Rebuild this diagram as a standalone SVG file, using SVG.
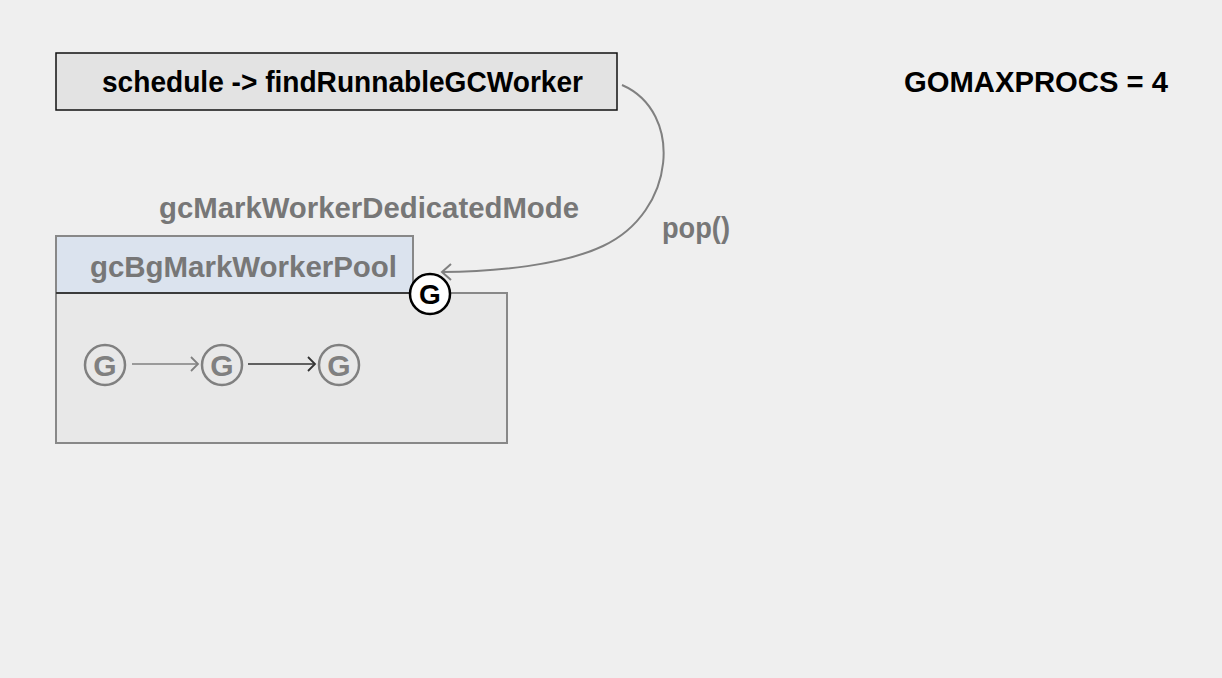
<svg xmlns="http://www.w3.org/2000/svg" width="1222" height="678" viewBox="0 0 1222 678">
<style>
text{font-family:"Liberation Sans",Arial,sans-serif;font-weight:bold}
.big{font-size:29px}
.gray{fill:#777777}
.gc{fill:none;stroke:#808080;stroke-width:2.5}
.gt{font-size:30px;fill:#808080;text-anchor:middle}
</style>
<defs>
<marker id="ag" markerWidth="12" markerHeight="16" refX="9" refY="8" orient="auto" markerUnits="userSpaceOnUse"><path d="M2,1 L9,8 L2,15" fill="none" stroke="#808080" stroke-width="1.8"/></marker>
<marker id="ad" markerWidth="12" markerHeight="16" refX="9" refY="8" orient="auto" markerUnits="userSpaceOnUse"><path d="M2,1 L9,8 L2,15" fill="none" stroke="#333333" stroke-width="1.8"/></marker>
<marker id="ac" markerWidth="16" markerHeight="20" refX="12" refY="10" orient="auto" markerUnits="userSpaceOnUse"><path d="M3,2 L12,10 L3,18" fill="none" stroke="#808080" stroke-width="2"/></marker>
</defs>
<rect width="1222" height="678" fill="#efefef"/>
<g id="schedule">
<rect x="56" y="53" width="561" height="57" fill="#e3e3e3" stroke="#111" stroke-width="1.5"/>
<text class="big" x="102" y="92" textLength="481" lengthAdjust="spacingAndGlyphs">schedule -&gt; findRunnableGCWorker</text>
</g>
<g id="gomaxprocs"><text class="big" x="904" y="92" textLength="264" lengthAdjust="spacingAndGlyphs">GOMAXPROCS = 4</text></g>
<g id="mode"><text class="big gray" x="159" y="218" textLength="420" lengthAdjust="spacingAndGlyphs">gcMarkWorkerDedicatedMode</text></g>
<g id="pop"><text class="big gray" x="662" y="238" textLength="68" lengthAdjust="spacingAndGlyphs">pop()</text></g>
<g id="pool">
<rect x="56" y="293" width="451" height="150" fill="#e8e8e8" stroke="#888" stroke-width="2"/>
<rect x="56" y="236" width="357" height="57" fill="#dbe3ee" stroke="#888" stroke-width="2"/>
<line x1="56" y1="293" x2="413" y2="293" stroke="#222" stroke-width="1.5"/>
<text class="big gray" x="90" y="277" textLength="307" lengthAdjust="spacingAndGlyphs">gcBgMarkWorkerPool</text>
</g>
<g id="g1"><circle class="gc" cx="105" cy="365" r="20"/><text class="gt" x="105" y="376">G</text></g>
<g id="g2"><circle class="gc" cx="222" cy="365" r="20"/><text class="gt" x="222" y="376">G</text></g>
<g id="g3"><circle class="gc" cx="339" cy="365" r="20"/><text class="gt" x="339" y="376">G</text></g>
<g id="connectors">
<path d="M622,85 C684,112 676,212 603,246 C563,265 495,272 442,272" fill="none" stroke="#808080" stroke-width="2" marker-end="url(#ac)"/>
<line x1="132" y1="364" x2="198" y2="364" stroke="#808080" stroke-width="1.5" marker-end="url(#ag)"/>
<line x1="248" y1="364" x2="315" y2="364" stroke="#333" stroke-width="1.5" marker-end="url(#ad)"/>
</g>
<g id="gactive"><circle cx="430" cy="294" r="20" fill="#fff" stroke="#000" stroke-width="2.5"/><text x="430" y="304" font-size="28" text-anchor="middle">G</text></g>
</svg>
